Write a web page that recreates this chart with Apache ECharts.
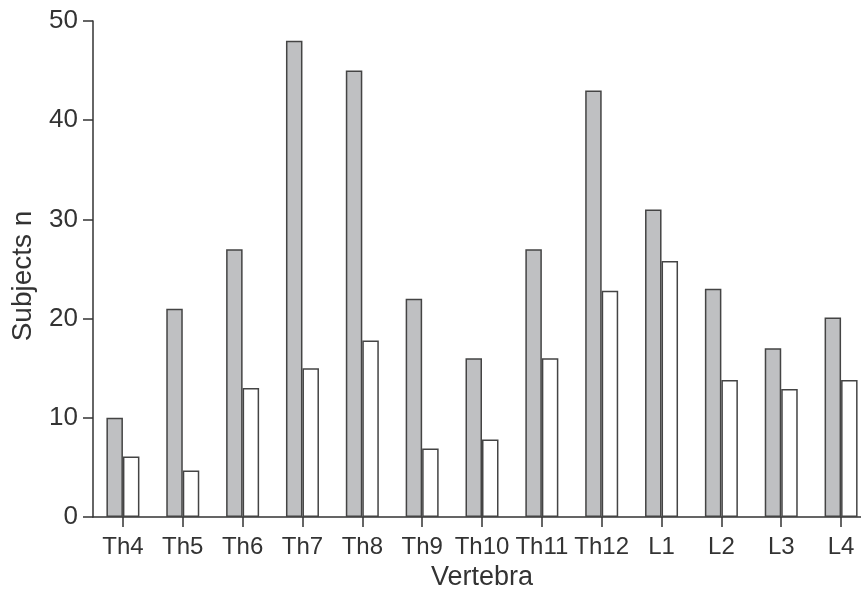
<!DOCTYPE html>
<html>
<head>
<meta charset="utf-8">
<script src="https://cdn.jsdelivr.net/npm/echarts@6/dist/echarts.min.js"></script>
<style>
html,body{margin:0;padding:0;background:#fff;}
#chart{width:861px;height:589px;}
</style>
</head>
<body>
<div id="chart"></div>
<script>
const categories = ['Th4','Th5','Th6','Th7','Th8','Th9','Th10','Th11','Th12','L1','L2','L3','L4'];
const greyValues = [10, 21, 27, 48, 45, 22, 16, 27, 43, 31, 23, 17, 20.1];
const whiteValues = [6.1, 4.7, 13, 15, 17.8, 6.9, 7.8, 16, 22.8, 25.8, 13.8, 12.9, 13.8];
const yTicks = { min: 0, max: 50, interval: 10 };

const textColor = '#333';
const lineColor = '#333';
const font = 'Liberation Sans, Arial, Helvetica, sans-serif';

const chart = echarts.init(document.getElementById('chart'));
chart.setOption({
  animation: false,
  backgroundColor: '#fff',
  grid: { left: 93, top: 21, bottom: 72, width: 778, containLabel: false, outerBoundsMode: 'none' },
  xAxis: {
    type: 'category',
    data: categories,
    boundaryGap: true,
    name: 'Vertebra',
    nameLocation: 'middle',
    nameGap: 46,
    nameTextStyle: { fontSize: 27, color: textColor, fontFamily: font },
    axisLine: { show: true, lineStyle: { color: lineColor, width: 1.5 } },
    axisTick: { show: true, alignWithLabel: true, length: 10, lineStyle: { color: lineColor, width: 1.5 } },
    axisLabel: { fontSize: 24, color: textColor, fontFamily: font, margin: 18, interval: 0, hideOverlap: false },
    splitLine: { show: false }
  },
  yAxis: {
    type: 'value',
    min: yTicks.min,
    max: yTicks.max,
    interval: yTicks.interval,
    name: 'Subjects n',
    nameLocation: 'middle',
    nameGap: 56,
    nameRotate: 90,
    nameTextStyle: { fontSize: 28, color: textColor, fontFamily: font, padding: [0, 14, 0, 0] },
    axisLine: { show: true, lineStyle: { color: lineColor, width: 1.5 } },
    axisTick: { show: true, length: 10, lineStyle: { color: lineColor, width: 1.5 } },
    axisLabel: { fontSize: 26, color: textColor, fontFamily: font, margin: 15 },
    splitLine: { show: false }
  },
  series: [
    {
      type: 'bar',
      data: greyValues,
      barWidth: 16.5,
      barGap: '0%',
      itemStyle: { color: '#bfc0c2', borderColor: '#444', borderWidth: 1.5 }
    },
    {
      type: 'bar',
      data: whiteValues,
      barWidth: 16.5,
      barGap: '0%',
      itemStyle: { color: '#ffffff', borderColor: '#444', borderWidth: 1.5 }
    }
  ]
});
</script>
</body>
</html>
